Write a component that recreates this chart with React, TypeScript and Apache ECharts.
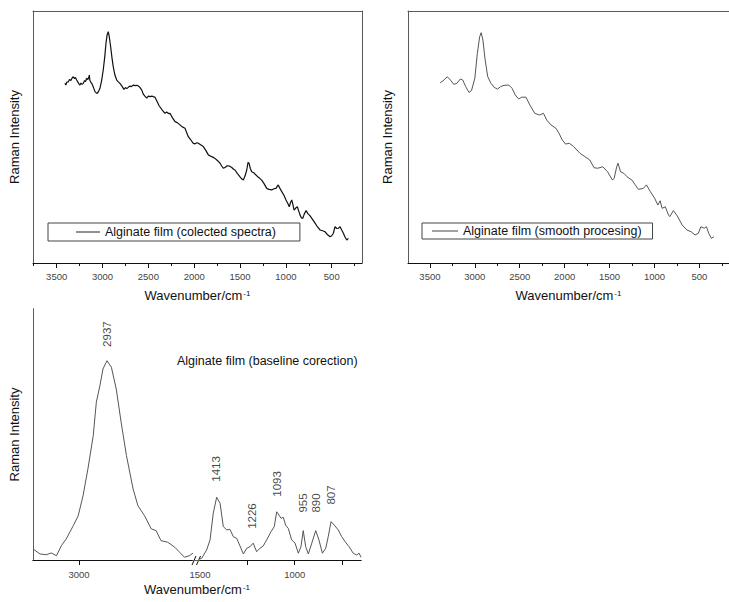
import React, { useEffect, useRef } from "react";
import * as echarts from "echarts";

const FONT = "'Liberation Sans', Arial, Helvetica, sans-serif";

// Top-left: collected (raw) spectrum, [wavenumber, intensity]
const rawSpectrum: [number, number][] = [
  [3410, 71.3], [3400, 70.6], [3390, 71.8], [3373, 71.9], [3360, 72.8], [3345, 72.4], [3330, 73.5], [3319, 73.9],
  [3305, 73.2], [3295, 73.6], [3282, 72.6], [3270, 71.9], [3258, 71.2], [3246, 70.6], [3235, 71.4], [3222, 70.9],
  [3210, 71.3], [3195, 72.4], [3185, 72.0], [3173, 73.3], [3160, 72.8], [3150, 73.6], [3144, 74.6], [3138, 72.5],
  [3130, 71.9], [3118, 71.3], [3100, 69.8], [3082, 68.0], [3070, 67.6], [3057, 67.3], [3045, 68.0], [3028, 69.3],
  [3010, 72.3], [2992, 76.6], [2975, 82.0], [2962, 87.2], [2950, 90.5], [2937, 91.8], [2925, 89.5], [2911, 85.8],
  [2897, 81.5], [2883, 77.9], [2865, 74.6], [2845, 72.6], [2830, 72.0], [2810, 71.3], [2790, 70.3], [2766, 68.9],
  [2750, 69.6], [2735, 69.2], [2719, 69.7], [2700, 70.2], [2685, 70.0], [2664, 70.6], [2645, 70.4], [2625, 70.5],
  [2610, 70.2], [2595, 69.8], [2573, 68.7], [2555, 67.0], [2540, 66.3], [2518, 65.4], [2500, 66.2], [2482, 66.0],
  [2460, 66.2], [2440, 65.9], [2428, 65.8], [2405, 64.1], [2381, 62.3], [2350, 60.8], [2319, 59.4], [2300, 59.9],
  [2280, 59.3], [2264, 59.4], [2240, 57.8], [2209, 56.1], [2185, 55.7], [2155, 54.8], [2130, 54.0], [2100, 53.5],
  [2085, 52.0], [2064, 50.1], [2040, 49.0], [2010, 47.5], [1990, 47.3], [1970, 47.7], [1955, 47.5], [1930, 46.9],
  [1901, 46.2], [1875, 44.8], [1846, 42.9], [1810, 42.2], [1790, 41.9], [1773, 41.5], [1745, 40.6], [1718, 39.6],
  [1700, 38.5], [1682, 37.6], [1660, 38.0], [1640, 38.6], [1617, 38.5], [1590, 37.9], [1570, 37.2], [1555, 36.9],
  [1530, 35.6], [1500, 34.2], [1480, 33.3], [1464, 32.9], [1445, 34.6], [1427, 36.9], [1413, 39.9], [1402, 39.6],
  [1388, 37.5], [1373, 36.2], [1350, 35.8], [1326, 34.9], [1300, 34.0], [1285, 33.6], [1264, 32.9], [1240, 31.6],
  [1209, 29.6], [1185, 29.2], [1155, 29.0], [1130, 29.5], [1108, 29.6], [1095, 30.4], [1083, 31.0], [1065, 29.6],
  [1045, 28.3], [1020, 26.8], [999, 25.0], [980, 23.7], [963, 22.3], [950, 24.0], [936, 25.0], [922, 23.0],
  [911, 21.0], [893, 21.8], [875, 22.3], [860, 20.6], [845, 19.0], [830, 17.9], [816, 17.7], [800, 19.4],
  [780, 20.8], [760, 19.6], [736, 18.7], [710, 17.3], [682, 15.8], [655, 14.3], [627, 13.1], [600, 12.8],
  [573, 12.4], [545, 11.2], [518, 10.4], [500, 10.8], [482, 11.8], [470, 13.6], [464, 14.4], [445, 13.7],
  [428, 13.8], [409, 14.4], [390, 13.0], [373, 11.8], [355, 10.3], [336, 9.1], [319, 9.8],
];

// Top-right: smoothed spectrum
const smoothSpectrum: [number, number][] = [
  [3386, 71.5], [3354, 72.3], [3307, 73.9], [3271, 72.6], [3235, 70.9], [3199, 71.3], [3162, 73.0], [3134, 72.6],
  [3102, 70.0], [3065, 67.7], [3037, 68.4], [3000, 73.3], [2972, 83.2], [2946, 89.8], [2929, 91.4], [2910, 88.5],
  [2885, 80.6], [2856, 73.9], [2820, 71.3], [2784, 69.7], [2748, 69.0], [2712, 70.0], [2675, 70.5], [2621, 70.6],
  [2585, 69.3], [2550, 66.7], [2513, 65.1], [2477, 65.8], [2431, 65.8], [2387, 62.7], [2333, 59.4], [2279, 58.7],
  [2236, 59.4], [2199, 56.7], [2153, 54.8], [2098, 53.5], [2063, 51.5], [2026, 48.8], [1990, 47.2], [1947, 47.5],
  [1900, 46.2], [1828, 43.5], [1774, 42.2], [1720, 40.9], [1673, 37.8], [1630, 37.6], [1576, 38.2], [1522, 36.2],
  [1467, 32.9], [1449, 33.6], [1420, 38.2], [1406, 39.6], [1377, 36.2], [1341, 35.6], [1305, 34.2], [1251, 32.9],
  [1214, 31.0], [1178, 29.2], [1124, 29.6], [1089, 31.0], [1045, 28.3], [998, 25.7], [962, 23.0], [937, 24.7],
  [915, 21.7], [879, 22.3], [843, 19.0], [829, 18.4], [789, 20.8], [746, 18.7], [692, 15.1], [638, 13.1],
  [591, 12.4], [548, 11.1], [511, 11.8], [483, 14.4], [446, 13.8], [421, 14.4], [396, 11.8], [367, 9.8], [338, 10.4],
];

// Bottom: baseline-corrected spectrum, high-wavenumber segment
const baselineHigh: [number, number][] = [
  [3104, 4.4], [3088, 2.4], [3074, 2.1], [3063, 2.8], [3051, 1.7], [3040, 5.7], [3029, 8.4], [3013, 13.7],
  [3002, 17.6], [2991, 25.6], [2980, 36.3], [2968, 49.5], [2961, 62.9], [2953, 69.4], [2946, 76.1], [2937, 79.4],
  [2927, 76.8], [2916, 68.1], [2905, 54.9], [2893, 41.6], [2878, 28.3], [2867, 21.6], [2852, 17.6], [2837, 12.4],
  [2826, 11.7], [2815, 7.7], [2800, 7.1], [2784, 5.1], [2773, 3.1], [2762, 1.1], [2751, 1.7], [2740, 3.1],
];

// Bottom: baseline-corrected spectrum, fingerprint segment
const baselineLow: [number, number][] = [
  [1500, 0.4], [1491, 0.7], [1465, 4.0], [1447, 8.0], [1430, 18.6], [1412, 25.0], [1394, 22.6], [1377, 13.3],
  [1359, 12.0], [1342, 12.2], [1324, 9.3], [1306, 8.6], [1289, 5.6], [1271, 2.4], [1253, 4.7], [1236, 5.3],
  [1219, 6.7], [1201, 3.3], [1183, 4.7], [1166, 5.6], [1148, 8.0], [1125, 11.3], [1108, 13.3], [1095, 19.2],
  [1083, 17.9], [1072, 16.6], [1060, 17.0], [1048, 13.9], [1034, 12.6], [1016, 8.0], [998, 6.7], [981, 2.7],
  [967, 5.3], [955, 11.7], [942, 5.3], [928, 2.4], [910, 6.7], [889, 11.7], [872, 8.0], [854, 2.7],
  [836, 4.7], [823, 9.3], [808, 15.3], [791, 13.9], [770, 12.0], [752, 9.3], [734, 7.3], [713, 5.3],
  [691, 2.7], [673, 2.0], [660, 2.7], [650, 1.1],
];

const peakWavenumbers = [2937, 1413, 1226, 1093, 955, 890, 807];
const peakLabelHeights = [90, 36.3, 17.5, 30.3, 22.7, 22.7, 25.9];

const topMajorTicks = [500, 1000, 1500, 2000, 2500, 3000, 3500];
const topMinorTicks = [250, 750, 1250, 1750, 2250, 2750, 3250, 3750];
const highTicks = [3000];
const highLabels = [3000];
const lowTicks = [1250, 1000, 750];
const lowLabels = [1500, 1000];

const RAW_NAME = "Alginate film (colected spectra)";
const SMOOTH_NAME = "Alginate film (smooth procesing)";
const BASELINE_TEXT = "Alginate film (baseline corection)";
const X_NAME = "Wavenumber/cm{sup|-1}";
const Y_NAME = "Raman Intensity";

const FRAME = "#5a5a5a";
const AXIS = "#111";

const xNameStyle = {
  fontSize: 13,
  color: "#111",
  fontFamily: FONT,
  rich: { sup: { fontSize: 8, verticalAlign: "top", padding: [0, 0, 0, 1], color: "#111", fontFamily: FONT } },
};

const yNameStyle = { fontSize: 13, color: "#111", fontFamily: FONT };

function none() {
  return { show: false };
}

function majorX(gridIndex: number, min: number, max: number, ticks: number[], labels: number[], withName: boolean, nameGap: number, labelMargin: number) {
  return {
    type: "value",
    gridIndex,
    position: "bottom",
    inverse: true,
    min,
    max,
    axisLine: { show: true, lineStyle: { color: AXIS, width: 1 } },
    axisTick: { show: true, length: 5, customValues: ticks, lineStyle: { color: AXIS } },
    axisLabel: {
      show: true,
      customValues: labels,
      formatter: (v: number) => String(v),
      fontSize: 9.5,
      color: "#444",
      margin: labelMargin,
      fontFamily: FONT,
      showMinLabel: true,
      showMaxLabel: true,
    },
    splitLine: none(),
    name: withName ? X_NAME : "",
    nameLocation: "middle",
    nameGap,
    nameTextStyle: xNameStyle,
  };
}

function minorX(gridIndex: number, min: number, max: number, ticks: number[]) {
  return {
    type: "value",
    gridIndex,
    position: "bottom",
    inverse: true,
    min,
    max,
    axisLine: none(),
    axisTick: { show: true, length: 3, customValues: ticks, lineStyle: { color: AXIS } },
    axisLabel: none(),
    splitLine: none(),
  };
}

function topLine(gridIndex: number) {
  return {
    type: "value",
    gridIndex,
    position: "top",
    min: 0,
    max: 1,
    axisLine: { show: true, lineStyle: { color: FRAME, width: 1 } },
    axisTick: none(),
    axisLabel: none(),
    splitLine: none(),
  };
}

function yLine(gridIndex: number, position: string, name: string, nameGap: number) {
  return {
    type: "value",
    gridIndex,
    position,
    min: 0,
    max: 100,
    axisLine: { show: true, lineStyle: { color: FRAME, width: 1 } },
    axisTick: none(),
    axisLabel: none(),
    splitLine: none(),
    name,
    nameLocation: "middle",
    nameGap,
    nameTextStyle: yNameStyle,
  };
}

function hiddenY(gridIndex: number) {
  return {
    type: "value",
    gridIndex,
    min: 0,
    max: 100,
    axisLine: none(),
    axisTick: none(),
    axisLabel: none(),
    splitLine: none(),
  };
}

export default function App() {
  const ref = useRef<HTMLDivElement>(null);

  useEffect(() => {
    if (!ref.current) return;
    const chart = echarts.init(ref.current, undefined, { renderer: "svg" });

    const highPeaks = peakWavenumbers.map((w, i) => [w, peakLabelHeights[i]]).filter((p) => p[0] > 2000);
    const lowPeaks = peakWavenumbers.map((w, i) => [w, peakLabelHeights[i]]).filter((p) => p[0] < 2000);

    const peakLabelSeries = (xAxisIndex: number, yAxisIndex: number, data: number[][]) => ({
      type: "scatter",
      xAxisIndex,
      yAxisIndex,
      data,
      symbolSize: 1,
      itemStyle: { color: "rgba(0,0,0,0)" },
      silent: true,
      label: {
        show: true,
        position: "inside",
        rotate: 90,
        formatter: (p: any) => String(p.value[0]),
        fontSize: 11.5,
        color: "#111",
        fontFamily: FONT,
      },
    });

    const option: any = {
      animation: false,
      backgroundColor: "#fff",
      textStyle: { fontFamily: FONT },
      title: {
        text: BASELINE_TEXT,
        left: 177,
        top: 354,
        padding: 0,
        textStyle: { fontSize: 12.5, fontWeight: "normal", color: "#111", fontFamily: FONT },
      },
      legend: [
        {
          data: [RAW_NAME],
          left: 48,
          top: 223,
          borderColor: "#444",
          borderWidth: 1,
          padding: [2, 24, 2, 28],
          icon: "rect",
          itemWidth: 24,
          itemHeight: 1,
          itemGap: 0,
          selectedMode: false,
          textStyle: { fontSize: 12.5, color: "#111", fontFamily: FONT, lineHeight: 14 },
        },
        {
          data: [SMOOTH_NAME],
          left: 422,
          top: 223,
          borderColor: "#444",
          borderWidth: 1,
          padding: [1, 11, 1, 10],
          icon: "rect",
          itemWidth: 26,
          itemHeight: 1,
          itemGap: 0,
          selectedMode: false,
          textStyle: { fontSize: 12.5, color: "#111", fontFamily: FONT, lineHeight: 14 },
        },
      ],
      grid: [
        { left: 33, top: 11, width: 329, height: 252 },
        { left: 408, top: 11, right: -9, height: 252 },
        { left: 33, top: 309, width: 328, height: 251 },
        { left: 33, top: 309, width: 159, height: 251 },
        { left: 200, top: 309, width: 161, height: 251 },
      ],
      xAxis: [
        majorX(0, 170, 3758, topMajorTicks, topMajorTicks, true, 26, 8),
        minorX(0, 170, 3758, topMinorTicks),
        topLine(0),
        majorX(1, 170, 3744, topMajorTicks, topMajorTicks, true, 26, 8),
        minorX(1, 170, 3744, topMinorTicks),
        topLine(1),
        topLine(2),
        {
          type: "value",
          gridIndex: 2,
          position: "bottom",
          min: 0,
          max: 1,
          axisLine: none(),
          axisTick: none(),
          axisLabel: none(),
          splitLine: none(),
          name: X_NAME,
          nameLocation: "middle",
          nameGap: 23,
          nameTextStyle: xNameStyle,
        },
        majorX(3, 2745, 3104, highTicks, highLabels, false, 0, 9),
        majorX(4, 650, 1500, lowTicks, lowLabels, false, 0, 9),
      ],
      yAxis: [
        yLine(0, "left", Y_NAME, 12),
        yLine(0, "right", "", 0),
        yLine(1, "left", Y_NAME, 14),
        yLine(2, "left", Y_NAME, 12),
        yLine(2, "right", "", 0),
        hiddenY(3),
        hiddenY(4),
      ],
      series: [
        {
          name: RAW_NAME,
          type: "line",
          xAxisIndex: 0,
          yAxisIndex: 0,
          data: rawSpectrum,
          symbol: "none",
          lineStyle: { color: "#111", width: 1.2 },
          itemStyle: { color: "#222" },
        },
        {
          name: SMOOTH_NAME,
          type: "line",
          xAxisIndex: 3,
          yAxisIndex: 2,
          data: smoothSpectrum,
          symbol: "none",
          lineStyle: { color: "#555", width: 1 },
          itemStyle: { color: "#444" },
        },
        {
          name: "baseline-high",
          type: "line",
          xAxisIndex: 8,
          yAxisIndex: 5,
          data: baselineHigh,
          symbol: "none",
          lineStyle: { color: "#555", width: 1 },
        },
        {
          name: "baseline-low",
          type: "line",
          xAxisIndex: 9,
          yAxisIndex: 6,
          data: baselineLow,
          symbol: "none",
          lineStyle: { color: "#555", width: 1 },
        },
        peakLabelSeries(8, 5, highPeaks),
        peakLabelSeries(9, 6, lowPeaks),
      ],
      graphic: [
        { type: "line", shape: { x1: 192, y1: 565, x2: 196, y2: 556 }, style: { stroke: AXIS, lineWidth: 1 } },
        { type: "line", shape: { x1: 196.5, y1: 565, x2: 200.5, y2: 556 }, style: { stroke: AXIS, lineWidth: 1 } },
      ],
    };

    chart.setOption(option);
    return () => chart.dispose();
  }, []);

  return (
    <div
      ref={ref}
      style={{ position: "absolute", left: 0, top: 0, width: 729, height: 602, background: "#fff" }}
    />
  );
}
